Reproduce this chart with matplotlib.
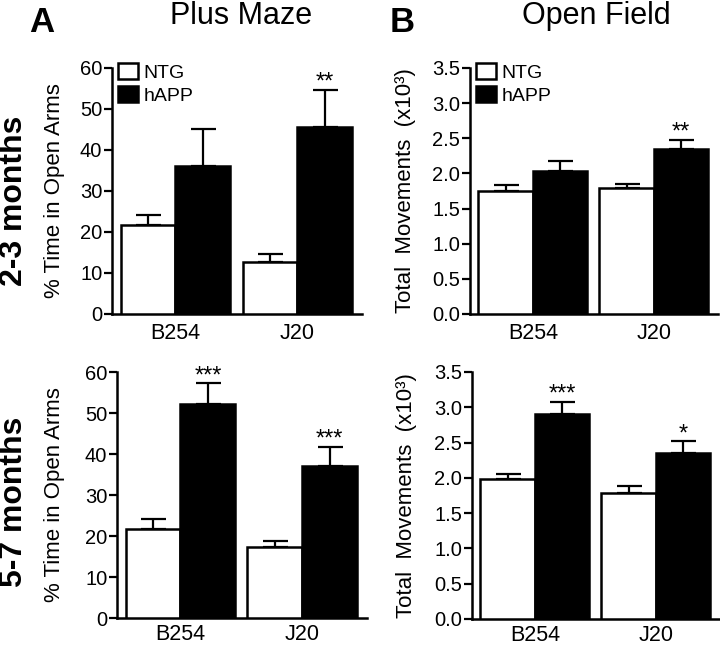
import matplotlib
matplotlib.use("Agg")
import matplotlib.pyplot as plt
from matplotlib.patches import Patch
import numpy as np

plt.rcParams['font.family'] = ['Liberation Sans', 'DejaVu Sans']

groups = ["B254", "J20"]
series = ["NTG", "hAPP"]

# Plus Maze, 2-3 months (% time in open arms)
pm_young_ntg = [21.7, 12.8]
pm_young_ntg_err = [2.5, 1.8]
pm_young_happ = [36.2, 45.5]
pm_young_happ_err = [8.9, 9.2]
pm_young_stars = ["", "**"]

# Open Field, 2-3 months (total movements x10^3)
of_young_ntg = [1.75, 1.79]
of_young_ntg_err = [0.085, 0.055]
of_young_happ = [2.04, 2.35]
of_young_happ_err = [0.14, 0.13]
of_young_stars = ["", "**"]

# Plus Maze, 5-7 months
pm_old_ntg = [21.6, 17.2]
pm_old_ntg_err = [2.6, 1.7]
pm_old_happ = [52.1, 37.1]
pm_old_happ_err = [5.2, 4.7]
pm_old_stars = ["***", "***"]

# Open Field, 5-7 months
of_old_ntg = [1.99, 1.78]
of_old_ntg_err = [0.06, 0.11]
of_old_happ = [2.91, 2.35]
of_old_happ_err = [0.17, 0.17]
of_old_stars = ["***", "*"]

pm_ticks = [0, 10, 20, 30, 40, 50, 60]
of_ticks = [0.0, 0.5, 1.0, 1.5, 2.0, 2.5, 3.0, 3.5]

fig = plt.figure(figsize=(7.2, 6.47), dpi=100)

axes_pos = {
    "tl": [0.1556, 0.5147, 0.3472, 0.3802],
    "tr": [0.6528, 0.5147, 0.3444, 0.3802],
    "bl": [0.1625, 0.0448, 0.3472, 0.3802],
    "br": [0.6556, 0.0433, 0.3444, 0.3818],
}

W = 0.45
LW = 1.8


def panel(key, ntg, ntg_err, happ, happ_err, stars, ticks, ylim, ylabel,
          ticklabels, legend, label_x, xpad):
    ax = fig.add_axes(axes_pos[key])
    x = np.arange(len(groups))
    xn = x - W / 2
    xh = x + W / 2
    ax.bar(xn, ntg, W, color="white", edgecolor="black", linewidth=LW,
           zorder=3, label=series[0])
    ax.bar(xh, happ, W, color="black", edgecolor="black", linewidth=LW,
           zorder=3, label=series[1])
    ax.errorbar(xn, ntg, yerr=[np.zeros(len(ntg)), ntg_err], fmt="none",
                ecolor="black", elinewidth=1.6, capsize=9, capthick=1.6,
                zorder=2)
    ax.errorbar(xh, happ, yerr=[np.zeros(len(happ)), happ_err], fmt="none",
                ecolor="black", elinewidth=1.6, capsize=9, capthick=1.6,
                zorder=2)
    for xi, v, e, s in zip(xh, happ, happ_err, stars):
        if s:
            ax.annotate(s, xy=(xi, v + e), xytext=(0, -3),
                        textcoords="offset points", ha="center", va="bottom",
                        fontsize=17, annotation_clip=False)
    ax.set_xlim(-0.52, 1.53)
    ax.set_ylim(*ylim)
    ax.set_yticks(ticks)
    ax.set_yticklabels(ticklabels, fontsize=14.5)
    ax.set_xticks(x)
    ax.set_xticklabels(groups, fontsize=15.5)
    ax.tick_params(axis="x", length=0, pad=xpad)
    ax.tick_params(axis="y", length=6, width=1.6, pad=1)
    for sp in ["top", "right"]:
        ax.spines[sp].set_visible(False)
    for sp in ["left", "bottom"]:
        ax.spines[sp].set_linewidth(LW)
    ax.set_ylabel(ylabel, fontsize=16)
    ax.yaxis.set_label_coords(label_x, 0.5)
    if legend:
        handles = [Patch(facecolor="white", edgecolor="black", linewidth=1.8),
                   Patch(facecolor="black", edgecolor="black", linewidth=1.8)]
        ax.legend(handles, series, loc="upper left",
                  bbox_to_anchor=(0.025, 1.02), frameon=False, fontsize=14,
                  handlelength=1.0, handleheight=0.9, handletextpad=0.3,
                  labelspacing=0.2, borderpad=0, borderaxespad=0)
    return ax


pm_labels = [str(t) for t in pm_ticks]
of_labels = ["%.1f" % t for t in of_ticks]

panel("tl", pm_young_ntg, pm_young_ntg_err, pm_young_happ, pm_young_happ_err,
      pm_young_stars, pm_ticks, (0, 60), "% Time in Open Arms", pm_labels,
      True, -0.188, 6.5)
panel("tr", of_young_ntg, of_young_ntg_err, of_young_happ, of_young_happ_err,
      of_young_stars, of_ticks, (0, 3.5), "Total  Movements  (x10³)",
      of_labels, True, -0.218, 6.5)
panel("bl", pm_old_ntg, pm_old_ntg_err, pm_old_happ, pm_old_happ_err,
      pm_old_stars, pm_ticks, (0, 60), "% Time in Open Arms", pm_labels,
      False, -0.208, 4.5)
panel("br", of_old_ntg, of_old_ntg_err, of_old_happ, of_old_happ_err,
      of_old_stars, of_ticks, (0, 3.5), "Total  Movements  (x10³)",
      of_labels, False, -0.222, 4.5)

fig.text(42 / 720, 1 - 32 / 647, "A", fontsize=25, fontweight="bold",
         ha="center", va="baseline")
fig.text(402 / 720, 1 - 32 / 647, "B", fontsize=25, fontweight="bold",
         ha="center", va="baseline")
fig.text(241 / 720, 1 - 24 / 647, "Plus Maze", fontsize=22,
         ha="center", va="baseline")
fig.text(596 / 720, 1 - 24 / 647, "Open Field", fontsize=22,
         ha="center", va="baseline")
fig.text(14 / 720, 1 - 201 / 647, "2-3 months", fontsize=23,
         fontweight="bold", rotation=90, ha="center", va="center")
fig.text(14 / 720, 1 - 502 / 647, "5-7 months", fontsize=23,
         fontweight="bold", rotation=90, ha="center", va="center")

fig.savefig("out.png", dpi=100)
